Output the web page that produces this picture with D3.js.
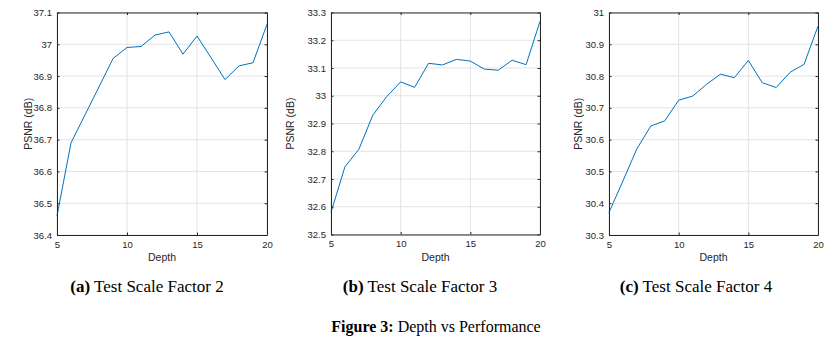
<!DOCTYPE html>
<html>
<head>
<meta charset="utf-8">
<script src="https://cdn.jsdelivr.net/npm/d3@7"></script>
<style>
  html, body { margin: 0; padding: 0; background: #fff; }
  svg { display: block; }
</style>
</head>
<body>
<svg id="chart" width="832" height="345"></svg>
<script>
const depths = [5,6,7,8,9,10,11,12,13,14,15,16,17,18,19,20];
const psnrX2 = [36.46,36.69,36.778,36.866,36.955,36.99,36.993,37.029,37.039,36.969,37.026,36.958,36.889,36.932,36.942,37.063];
const psnrX3 = [32.58,32.744,32.807,32.93,32.997,33.05,33.03,33.117,33.111,33.131,33.125,33.096,33.092,33.128,33.112,33.268];
const psnrX4 = [30.371,30.47,30.571,30.643,30.659,30.724,30.737,30.774,30.806,30.795,30.849,30.779,30.764,30.812,30.837,30.957];

const xTicks = [5,10,15,20];
const yTicksA = [36.4,36.5,36.6,36.7,36.8,36.9,37.0,37.1];
const yTicksB = [32.5,32.6,32.7,32.8,32.9,33.0,33.1,33.2,33.3];
const yTicksC = [30.3,30.4,30.5,30.6,30.7,30.8,30.9,31.0];

const captions = ["(a)", "(b)", "(c)"];
const captionTexts = [" Test Scale Factor 2", " Test Scale Factor 3", " Test Scale Factor 4"];
const xLabel = "Depth";
const yLabel = "PSNR (dB)";

const panels = [
  {values: psnrX2, yTicks: yTicksA, box: [57, 267, 12.5, 235], ylx: 28,  capX: 147},
  {values: psnrX3, yTicks: yTicksB, box: [331, 540, 12.5, 234.5], ylx: 290, capX: 420},
  {values: psnrX4, yTicks: yTicksC, box: [609, 818, 12.5, 235], ylx: 578, capX: 696}
];

const svg = d3.select("#chart");
const axisColor = "#262626";
const gridColor = "#e3e3e3";
const lineColor = "#0072BD";
const sans = "Liberation Sans, Arial, Helvetica, sans-serif";
const serif = "Liberation Serif, Times New Roman, serif";

panels.forEach((p, i) => {
  const [x0, x1, y0, y1] = p.box;
  const x = d3.scaleLinear().domain([5, 20]).range([x0, x1]);
  const yDom = d3.extent(p.yTicks);
  const y = d3.scaleLinear().domain(yDom).range([y1, y0]);
  const g = svg.append("g");

  // grid
  g.append("g").selectAll("line.vg").data(xTicks).join("line")
    .attr("x1", d => x(d)).attr("x2", d => x(d))
    .attr("y1", y0).attr("y2", y1)
    .attr("stroke", gridColor).attr("stroke-width", 1);
  g.append("g").selectAll("line.hg").data(p.yTicks).join("line")
    .attr("x1", x0).attr("x2", x1)
    .attr("y1", d => y(d)).attr("y2", d => y(d))
    .attr("stroke", gridColor).attr("stroke-width", 1);

  // data line
  const line = d3.line().x((d, k) => x(depths[k])).y(d => y(d));
  g.append("path").datum(p.values)
    .attr("d", line).attr("fill", "none")
    .attr("stroke", lineColor).attr("stroke-width", 1);

  // axes (inner ticks, mirrored)
  const tl = 2.5;
  const bottom = g.append("g").attr("transform", `translate(0,${y1})`)
    .call(d3.axisBottom(x).tickValues(xTicks).tickSizeInner(-tl).tickSizeOuter(0).tickPadding(6).tickFormat(d3.format("d")));
  const top = g.append("g").attr("transform", `translate(0,${y0})`)
    .call(d3.axisTop(x).tickValues(xTicks).tickSizeInner(-tl).tickSizeOuter(0).tickFormat(""));
  const left = g.append("g").attr("transform", `translate(${x0},0)`)
    .call(d3.axisLeft(y).tickValues(p.yTicks).tickSizeInner(-tl).tickSizeOuter(0).tickPadding(5).tickFormat(d => d3.format("")(+d.toFixed(1))));
  const right = g.append("g").attr("transform", `translate(${x1},0)`)
    .call(d3.axisRight(y).tickValues(p.yTicks).tickSizeInner(-tl).tickSizeOuter(0).tickFormat(""));
  [bottom, top, left, right].forEach(a => {
    a.select(".domain").attr("stroke", axisColor).attr("stroke-width", 1);
    a.selectAll(".tick line").attr("stroke", axisColor);
    a.selectAll("text").attr("fill", axisColor).style("font-family", sans).style("font-size", "9.5px");
  });

  // axis labels
  g.append("text").attr("x", (x0 + x1) / 2).attr("y", 261)
    .attr("text-anchor", "middle").attr("fill", axisColor)
    .style("font-family", sans).style("font-size", "10.5px").text(xLabel);
  g.append("text").attr("transform", `translate(${p.ylx},${(y0 + y1) / 2}) rotate(-90)`)
    .attr("text-anchor", "middle").attr("dominant-baseline", "central").attr("fill", axisColor)
    .style("font-family", sans).style("font-size", "10.5px").text(yLabel);

  // caption
  const cap = g.append("text").attr("x", p.capX).attr("y", 292)
    .attr("text-anchor", "middle").attr("fill", "#000")
    .style("font-family", serif).style("font-size", "17px");
  cap.append("tspan").style("font-weight", "bold").text(captions[i]);
  cap.append("tspan").text(captionTexts[i]);
});

const fig = svg.append("text").attr("x", 436).attr("y", 332)
  .attr("text-anchor", "middle").attr("fill", "#000")
  .style("font-family", serif).style("font-size", "16px");
fig.append("tspan").style("font-weight", "bold").text("Figure 3:");
fig.append("tspan").text(" Depth vs Performance");
</script>
</body>
</html>
